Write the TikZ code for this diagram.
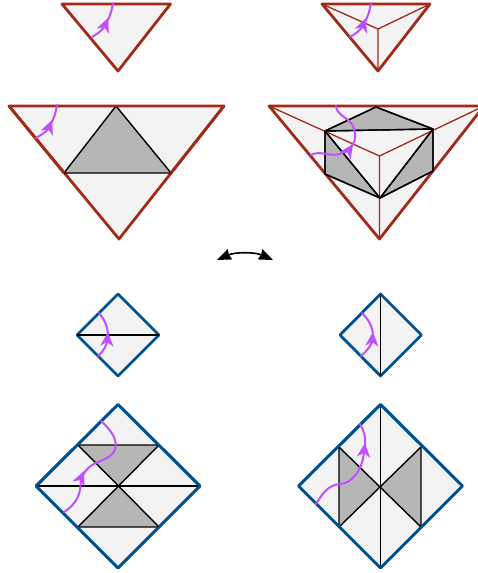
\documentclass[tikz,border=0pt]{standalone}
\usetikzlibrary{arrows.meta}
\definecolor{redb}{HTML}{A02B18}
\definecolor{blueb}{HTML}{00528F}
\definecolor{purp}{HTML}{C04FFF}
\definecolor{pale}{HTML}{F3F3F3}
\definecolor{grayf}{HTML}{B5B6B5}
\tikzset{
 redbox/.style={draw=redb,line width=2.8pt,fill=pale,line join=round},
 bluebox/.style={draw=blueb,line width=2.8pt,fill=pale,line join=round},
 redline/.style={draw=redb,line width=2.8pt,line join=round},
 blueline/.style={draw=blueb,line width=2.8pt,line join=round},
 thinred/.style={draw=redb,line width=1.3pt},
 blackline/.style={draw=black,line width=1.4pt,line join=round},
 shade/.style={blackline,fill=grayf},
 curve/.style={draw=purp,line width=2pt,line cap=round},
 head/.style={curve,-{Stealth[inset=4pt,length=14pt,width=13pt]}},
}
\begin{document}
\begin{tikzpicture}[x=1pt,y=-1pt]
\useasboundingbox (0,0) rectangle (478,573);
% top left small
\path[redbox] (62,4) -- (170.5,4) -- (118,71) -- cycle;
\draw[head] (92,37) .. controls (99,33) and (104,28) .. (108,18);
\draw[curve] (107,22) .. controls (110,16) and (112,10) .. (113,3);
% top left large
\path[redbox] (9,106) -- (224,106) -- (119,239) -- cycle;
\path[shade] (116,106) -- (171,173) -- (64,173) -- cycle;
\path[redline] (9,106) -- (224,106);
\path[redline] (9,106) -- (64,173) (171,173) -- (224,106);
\draw[head] (36,138) .. controls (43,134) and (48,130) .. (52,120);
\draw[curve] (51,124) .. controls (54,118) and (56,112) .. (57,105);
% top right small
\path[redbox] (322,4) -- (430,4) -- (378,71) -- cycle;
\path[thinred] (322,4) -- (378,29) -- (430,4) (378,29) -- (378,71);
\draw[head] (350,37) .. controls (357,33) and (362,28) .. (366,18);
\draw[curve] (365,22) .. controls (368,16) and (370,10) .. (371,3);
% top right large
\path[redbox] (269,106) -- (484,106) -- (379.5,239) -- cycle;
\path[shade] (376,107) -- (433,129) -- (433,171) -- (380,198) -- (325,174) -- (325,131) -- cycle;
\path[blackline,fill=pale] (325,131) -- (433,129) -- (380,198) -- cycle;
\path[thinred] (269,106) -- (379.5,156) -- (484,106) (379.5,156) -- (379.5,239);
\path[blackline] (376,107) -- (433,129) -- (433,171) -- (380,198) -- (325,174) -- (325,131) -- cycle;
\path[blackline] (325,131) -- (433,129) -- (380,198) -- cycle;
\draw[head] (311,155) .. controls (320,150) and (330,157) .. (340,154) .. controls (345,152) and (349,150) .. (353,144);
\draw[curve] (351,147) .. controls (357,140) and (356,130) .. (351,123) .. controls (345,116) and (337,115) .. (336,106);
% arrow between
\draw[{Stealth[inset=1pt,length=14pt,width=11pt]}-{Stealth[inset=1pt,length=14pt,width=11pt]},line width=1.6pt] (217,260) .. controls (235,252) and (255,252) .. (273,260);
% bottom left small
\path[bluebox] (77,335) -- (118,294) -- (159,335) -- (118,376) -- cycle;
\path[blackline] (77,335) -- (159,335);
\draw[head] (98,356) .. controls (104,351) and (107,344) .. (108,332);
\draw[curve] (108,337) .. controls (108,327) and (105,320) .. (99,313);
% bottom left large
\path[bluebox] (36,486) -- (118,404.5) -- (200,486) -- (118,568) -- cycle;
\path[shade] (78,445) -- (159,445) -- (118.5,486) -- cycle;
\path[shade] (78,527) -- (159,527) -- (118.5,486) -- cycle;
\path[blackline] (36,486) -- (200,486);
\path[blueline] (36,486) -- (118,404.5) -- (200,486) -- (118,568) -- cycle;
\draw[head] (64,512) .. controls (72,507) and (78,500) .. (80,490) .. controls (81,482) and (81,478) .. (84,471);
\draw[curve] (83,475) .. controls (90,462) and (100,463) .. (110,456) .. controls (118,450) and (120,438) .. (101,421);
% bottom right small
\path[bluebox] (340,335) -- (380.5,294) -- (421.5,335) -- (380.5,376) -- cycle;
\path[blackline] (380.5,294) -- (380.5,376);
\draw[head] (361,356) .. controls (367,351) and (372,344) .. (373,332);
\draw[curve] (373,337) .. controls (373,327) and (369,320) .. (362,313);
% bottom right large
\path[bluebox] (298.5,486) -- (380.5,404.5) -- (462.5,486) -- (380.5,568) -- cycle;
\path[shade] (339,447) -- (339,527) -- (380,487) -- cycle;
\path[shade] (421,447) -- (421,527) -- (380,487) -- cycle;
\path[blackline] (380.5,404.5) -- (380.5,568);
\path[blueline] (298.5,486) -- (380.5,404.5) -- (462.5,486) -- (380.5,568) -- cycle;
\draw[head] (316,504) .. controls (323,493) and (328,485) .. (340,484) .. controls (350,484) and (362,472) .. (365,443);
\draw[curve] (365,446) .. controls (366,437) and (364,431) .. (360,424);
\end{tikzpicture}
\end{document}
